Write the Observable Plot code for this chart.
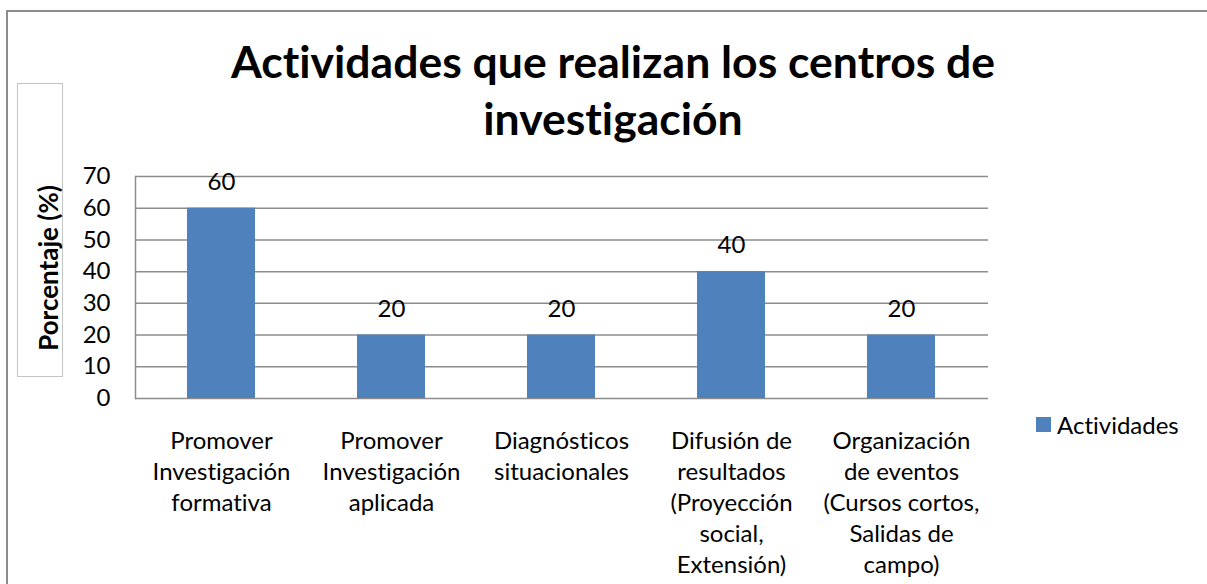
<!DOCTYPE html>
<html>
<head>
<meta charset="utf-8">
<script src="https://cdn.jsdelivr.net/npm/d3@7"></script>
<script src="https://cdn.jsdelivr.net/npm/@observablehq/plot@0.6"></script>
<style>
  html, body { margin: 0; padding: 0; background: #fff; overflow: hidden; }
  body { width: 1207px; height: 584px; position: relative; font-family: Lato, "Open Sans", sans-serif; color: #000; font-variant-ligatures: none; font-feature-settings: "liga" 0, "clig" 0; }
  svg text { font-variant-ligatures: none; font-feature-settings: "liga" 0, "clig" 0; }
  #chart { position: absolute; left: 0; top: 0; }
  #outer { position: absolute; left: 6px; top: 10px; width: 1400px; height: 800px; border: 2px solid #8c8c8c; box-sizing: border-box; }
  #title { position: absolute; left: 20px; top: 32px; width: 1186px; text-align: center; font-weight: bold; font-size: 44.5px; line-height: 57px; }
  #ybox { position: absolute; left: 17px; top: 83px; width: 46px; height: 294px; border: 1.5px solid #c4c4c4; box-sizing: border-box; }
  #ylabel { position: absolute; left: 48px; top: 268px; transform: translate(-50%, -50%) rotate(-90deg); white-space: nowrap; font-weight: bold; font-size: 26px; }
  #legend { position: absolute; left: 1036px; top: 410px; display: flex; align-items: center; font-size: 24px; }
  #legend .sw { width: 15px; height: 15px; background: #4f81bd; margin-right: 6px; }
</style>
</head>
<body>
<div id="outer"></div>
<div id="chart"></div>
<div id="title">Actividades que realizan los centros de<br>investigación</div>
<div id="ybox"></div>
<div id="ylabel">Porcentaje (%)</div>
<div id="legend"><div class="sw"></div><span id="legtext"></span></div>
<script>
const categories = [
  "Promover Investigación formativa",
  "Promover Investigación aplicada",
  "Diagnósticos situacionales",
  "Difusión de resultados (Proyección social, Extensión)",
  "Organización de eventos (Cursos cortos, Salidas de campo)"
];
const categoryLabels = [
  "Promover\nInvestigación\nformativa",
  "Promover\nInvestigación\naplicada",
  "Diagnósticos\nsituacionales",
  "Difusión de\nresultados\n(Proyección\nsocial,\nExtensión)",
  "Organización\nde eventos\n(Cursos cortos,\nSalidas de\ncampo)"
];
const values = [60, 20, 20, 40, 20];
const yTicks = [0, 10, 20, 30, 40, 50, 60, 70];
const seriesName = "Actividades";

const data = categories.map((c, i) => ({cat: c, label: categoryLabels[i], value: values[i]}));
document.getElementById("legtext").textContent = seriesName;

const fs = 24;
const chart = Plot.plot({
  width: 1207,
  height: 584,
  marginLeft: 135,
  marginRight: 219,
  marginTop: 176,
  marginBottom: 186,
  style: {fontFamily: "Lato, 'Open Sans', sans-serif", fontSize: fs + "px", color: "#000", background: "transparent"},
  x: {domain: categories, paddingInner: 0.6, paddingOuter: 0.3, axis: null},
  y: {domain: [0, 70], axis: null},
  marks: [
    Plot.ruleY(yTicks, {stroke: "#8c8c8c", strokeWidth: 1.5}),
    Plot.frame({anchor: "left", stroke: "#8c8c8c", strokeWidth: 1.5}),
    Plot.barY(data, {x: "cat", y: "value", fill: "#4f81bd"}),
    Plot.axisY(yTicks, {tickSize: 0, tickPadding: 25, fontSize: fs, label: null, fill: "#000"}),
    Plot.text(data, {x: "cat", y: "value", text: d => String(d.value), dy: -26, fontSize: fs, fill: "#000"}),
    Plot.text(data, {x: "cat", text: "label", frameAnchor: "bottom", lineAnchor: "top", dy: 28, lineHeight: 31 / fs, fontSize: fs, fill: "#000"})
  ]
});
document.getElementById("chart").appendChild(chart);
</script>
</body>
</html>
